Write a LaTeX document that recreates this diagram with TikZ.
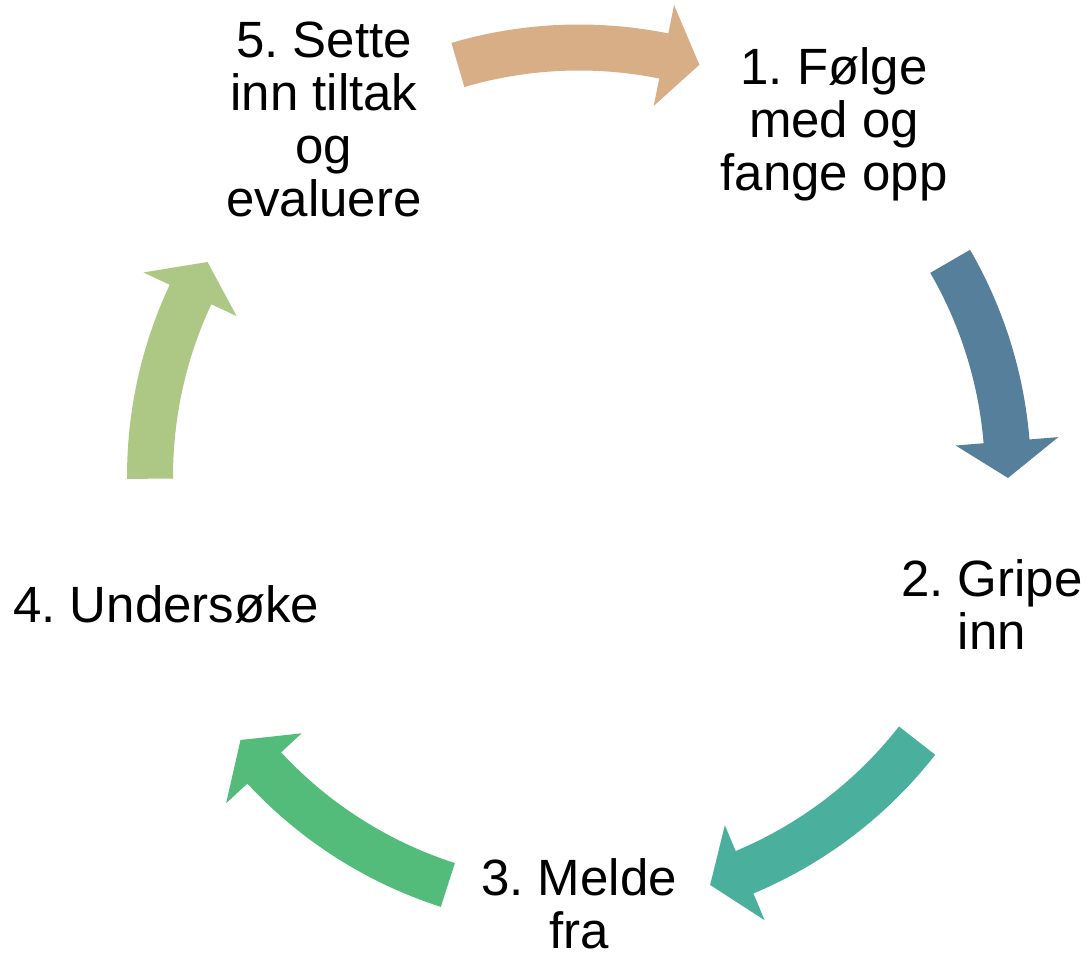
\documentclass[tikz,border=0pt]{standalone}
\usepackage{fontspec}
\setmainfont{Liberation Sans}
\frenchspacing

\definecolor{steptan}{HTML}{D8AE86}
\definecolor{stepblue}{HTML}{567F9C}
\definecolor{stepteal}{HTML}{4AAF9D}
\definecolor{stepgreen}{HTML}{53BC7B}
\definecolor{steplime}{HTML}{ADC884}

\begin{document}
\begin{tikzpicture}[
            x = .5pt, y = .5pt,
            every node/.style={text depth=0pt, align=center, inner sep=0pt, font=\fontsize{25.5}{26.5}\selectfont},
            ]
    \useasboundingbox (0,0) rectangle (1089,959);
    \coordinate (c) at (579,482.5);
    \coordinate (t) at (579,489);

    \node (folge)    at ([shift={(t)}]54:434)  {1. Følge\\med og\\fange opp};
    \node (gripe)    at ([shift={(t)}]-18:434) {2. Gripe\\inn};
    \node (melde)    at ([shift={(t)}]-90:434) {3. Melde\\fra};
    \node (undersoke) at ([shift={(t)}]198:434) {4. Undersøke};
    \node (tiltak)   at ([shift={(t)}]126:434) {5. Sette\\inn tiltak\\og\\evaluere};

    % curved block arrows: tail angle / tip angle / colour
    \foreach \tail/\tip/\col in {106.4/73.7/steptan, 30.1/-0.2/stepblue, -38/-72.2/stepteal, -107.8/-142.1/stepgreen, 180.3/150/steplime}{
        \pgfmathsetmacro\base{\tip+4.9}
        \fill[\col] ([shift={(c)}]\tail:452) arc[start angle=\tail, end angle=\base, radius=452] --([shift={(c)}]\base:481) --([shift={(c)}]\tip:429) --([shift={(c)}]\base:378) --([shift={(c)}]\base:406) arc[start angle=\base, end angle=\tail, radius=406] -- cycle;
    }

\end{tikzpicture}
\end{document}
